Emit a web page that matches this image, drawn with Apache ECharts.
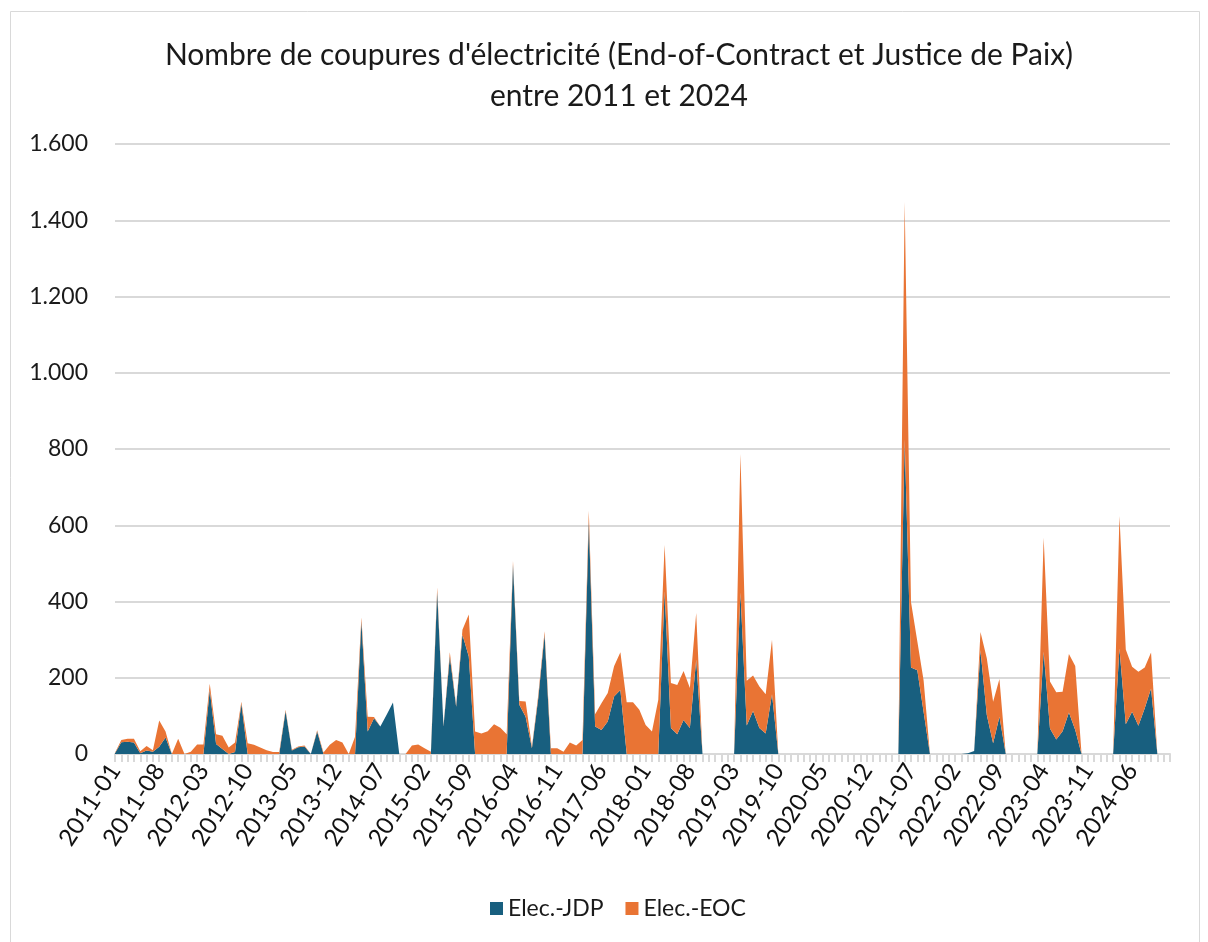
<!DOCTYPE html>
<html>
<head>
<meta charset="utf-8">
<title>Coupures d'électricité</title>
<script src="https://cdn.jsdelivr.net/npm/echarts@6/dist/echarts.min.js"></script>
<style>
  html, body { margin: 0; padding: 0; background: #fff; }
  #chart { width: 1208px; height: 942px; }
</style>
</head>
<body>
<div id="chart"></div>
<script>
// mois de 2011-01 à 2024-12
const firstYear = 2011;
const lastYear = 2024;
const months = [];
for (let y = firstYear; y <= lastYear; y++) {
  for (let m = 1; m <= 12; m++) {
    months.push(y + '-' + (m < 10 ? '0' + m : m));
  }
}

// Elec.-JDP (Justice de Paix), une valeur par mois
const jdp = [
  2, 31, 32, 30, 2, 9, 6, 19, 43, 0, 0, 0,
  0, 0, 0, 168, 26, 13, 0, 5, 132, 0, 0, 0,
  0, 0, 0, 112, 9, 18, 20, 0, 59, 0, 0, 0,
  0, 0, 0, 348, 59, 94, 72, 103, 135, 0, 0, 0,
  0, 0, 0, 425, 72, 256, 124, 313, 256, 0, 0, 0,
  0, 0, 0, 497, 129, 98, 15, 146, 313, 0, 0, 0,
  0, 0, 0, 611, 72, 63, 85, 151, 168, 0, 0, 0,
  0, 0, 0, 427, 68, 52, 89, 68, 247, 0, 0, 0,
  0, 0, 0, 423, 75, 113, 68, 54, 157, 0, 0, 0,
  0, 0, 0, 0, 0, 0, 0, 0, 0, 0, 0, 0,
  0, 0, 0, 0, 0, 825, 227, 220, 110, 0, 0, 0,
  0, 0, 0, 2, 8, 272, 102, 28, 98, 0, 0, 0,
  0, 0, 0, 268, 67, 38, 60, 109, 63, 0, 0, 0,
  0, 0, 0, 277, 78, 111, 74, 120, 172, 0, 0, 0
];

// Elec.-EOC (End-of-Contract)
const eoc = [
  1, 6, 8, 10, 5, 12, 4, 69, 16, 0, 40, 0,
  6, 25, 25, 16, 26, 35, 17, 25, 5, 28, 24, 17,
  10, 5, 5, 4, 2, 2, 2, 0, 3, 4, 24, 37,
  30, 0, 45, 10, 39, 3, 0, 0, 0, 0, 0, 22,
  25, 15, 6, 12, 2, 11, 4, 13, 110, 59, 54, 60,
  78, 69, 52, 9, 10, 40, 4, 9, 9, 15, 15, 6,
  30, 22, 37, 27, 32, 70, 75, 79, 99, 136, 136, 116,
  76, 59, 142, 121, 118, 129, 129, 105, 123, 0, 0, 0,
  0, 0, 0, 364, 117, 93, 109, 103, 143, 0, 0, 0,
  0, 0, 0, 0, 0, 0, 0, 0, 0, 0, 0, 0,
  0, 0, 0, 0, 0, 623, 172, 76, 83, 0, 0, 0,
  0, 0, 0, 0, 0, 48, 149, 109, 99, 0, 0, 0,
  0, 0, 0, 299, 123, 124, 103, 153, 168, 0, 0, 0,
  0, 0, 0, 347, 196, 118, 142, 107, 94, 0, 0, 0
];

const seriesNames = ['Elec.-JDP', 'Elec.-EOC'];
const colors = ['#185f7f', '#e97434'];
const fontName = 'Lato, "Open Sans", sans-serif';

const chart = echarts.init(document.getElementById('chart'));

function fmtThousands(v) {
  return String(v).replace(/\B(?=(\d{3})+(?!\d))/g, '.');
}

chart.setOption({
  animation: false,
  backgroundColor: '#fff',
  textStyle: { fontFamily: fontName },
  title: {
    text: "Nombre de coupures d'électricité (End-of-Contract et Justice de Paix)\nentre 2011 et 2024",
    left: 614,
    textAlign: 'center',
    top: 30,
    textStyle: {
      fontFamily: fontName,
      fontSize: 30,
      fontWeight: 'normal',
      color: '#1a1a1a',
      lineHeight: 41
    }
  },
  graphic: [{
    type: 'rect',
    shape: { x: 10.5, y: 11.5, width: 1189, height: 940 },
    style: { fill: 'none', stroke: '#d9d9d9', lineWidth: 1 },
    silent: true
  }],
  legend: {
    bottom: 17,
    left: 485,
    itemWidth: 13,
    itemHeight: 13,
    itemGap: 22,
    icon: 'rect',
    textStyle: { fontFamily: fontName, fontSize: 23, color: '#1a1a1a' },
    data: seriesNames
  },
  grid: {
    left: 115,
    right: 38,
    top: 144,
    bottom: 188,
    containLabel: false
  },
  xAxis: {
    type: 'category',
    data: months,
    boundaryGap: false,
    axisLine: { lineStyle: { color: '#d9d9d9', width: 2 } },
    axisTick: {
      show: true,
      interval: 0,
      length: 8,
      lineStyle: { color: '#d9d9d9', width: 2 }
    },
    axisLabel: {
      interval: 6,
      rotate: 57,
      margin: 12,
      fontSize: 24,
      color: '#111',
      fontFamily: fontName
    },
    splitLine: { show: false }
  },
  yAxis: {
    type: 'value',
    min: 0,
    max: 1600,
    interval: 200,
    axisLine: { show: false },
    axisTick: { show: false },
    axisLabel: {
      fontSize: 23,
      color: '#1a1a1a',
      margin: 27,
      fontFamily: fontName,
      formatter: fmtThousands
    },
    splitLine: { lineStyle: { color: '#d9d9d9', width: 2 } }
  },
  series: [
    {
      name: seriesNames[0],
      type: 'line',
      stack: 'total',
      data: jdp,
      symbol: 'none',
      lineStyle: { width: 0 },
      areaStyle: { color: colors[0], opacity: 1 },
      itemStyle: { color: colors[0] }
    },
    {
      name: seriesNames[1],
      type: 'line',
      stack: 'total',
      data: eoc,
      symbol: 'none',
      lineStyle: { width: 0 },
      areaStyle: { color: colors[1], opacity: 1 },
      itemStyle: { color: colors[1] }
    }
  ]
});

window.addEventListener('resize', () => {
  chart.resize();
});
</script>
</body>
</html>
